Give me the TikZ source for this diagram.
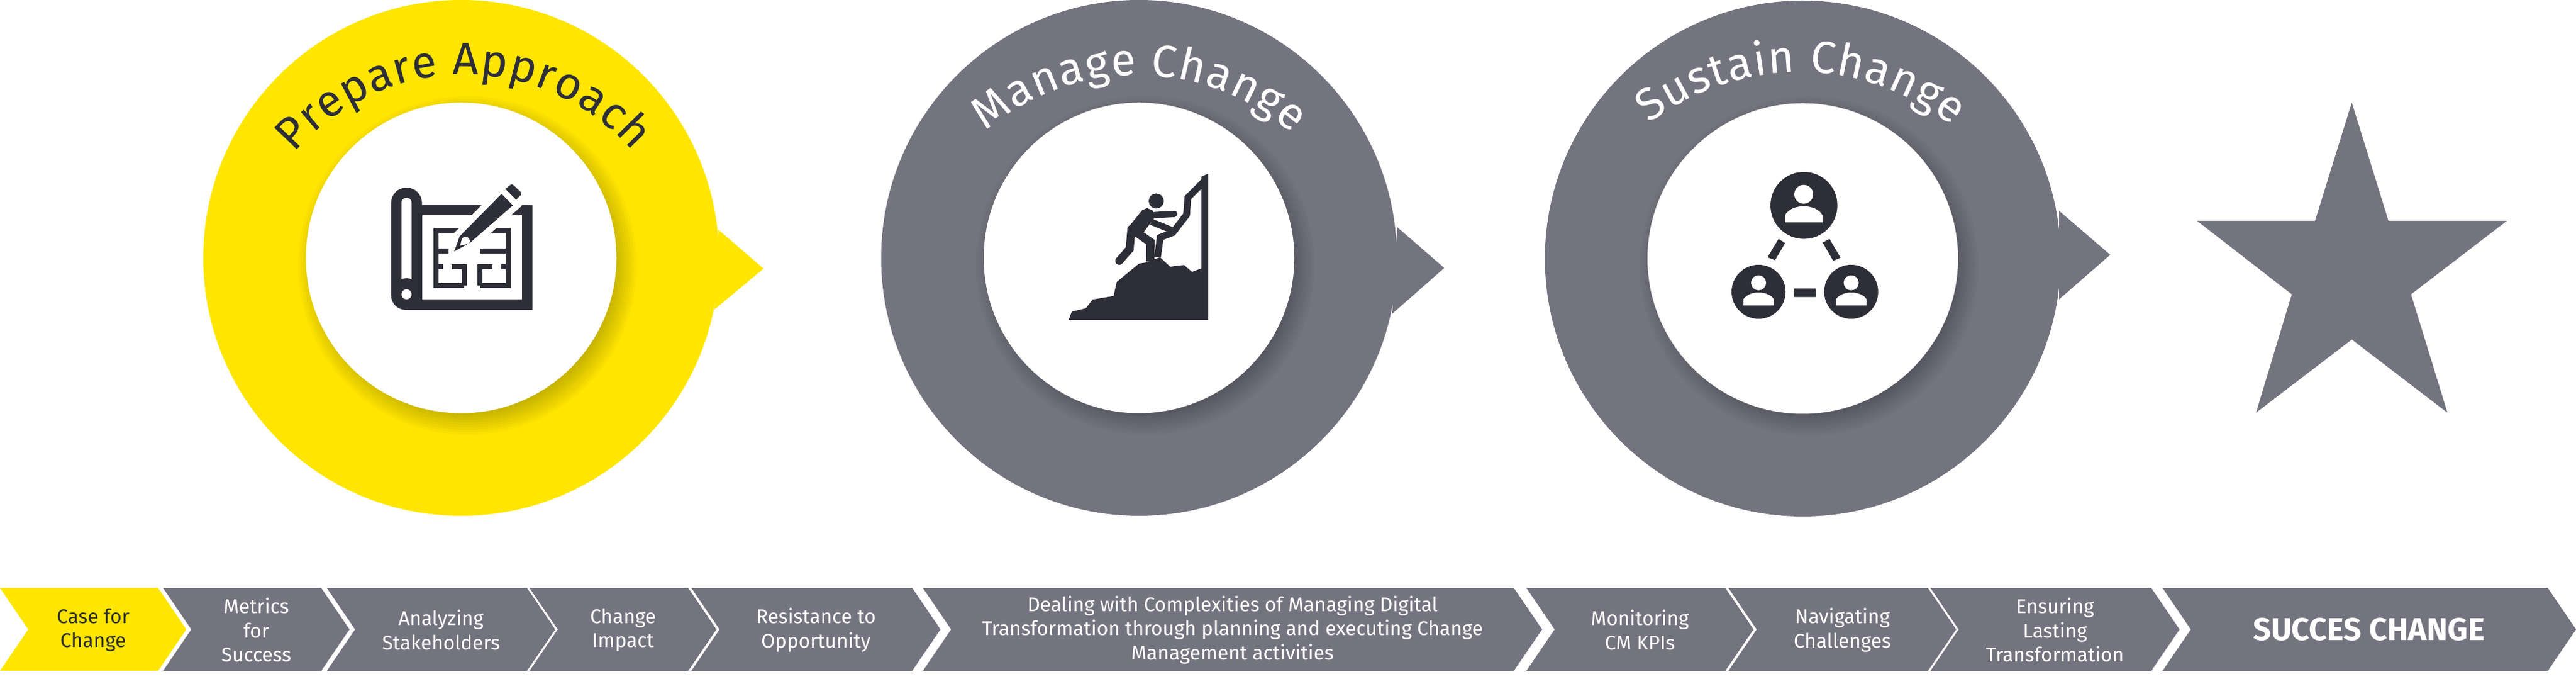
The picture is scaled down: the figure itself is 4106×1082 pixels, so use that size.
\documentclass[tikz,border=0pt]{standalone}
\usepackage{fontspec}
\setmainfont{Fira Sans}
\usetikzlibrary{decorations.text}
\definecolor{eyyellow}{HTML}{FFE600}
\definecolor{eygray}{HTML}{747480}
\definecolor{eyink}{HTML}{2E2E38}
\newcommand{\stagefont}{\fontsize{20.5}{24}\selectfont}
\tikzset{
  chevron text/.style={align=center,font=\fontsize{9}{10.9}\selectfont},
  icon ink/.style={fill=eyink},
  soft shadow/.style={fill=black,opacity=0.025}
}
\newcommand{\stepbar}[6]{
  \fill[#4] (#2,145)--(#3,145)--({#3+45},79)--(#3,13)--(#2,13)--({#2+45},79)--cycle;
  \node[chevron text,text=#5] (#1) at ({(#2+#3+45)/2},78) {#6};
}
\begin{document}
\begin{tikzpicture}[x=0.01cm,y=0.01cm]
\useasboundingbox (0,0) rectangle (4106,1082);

\fill[eyyellow] (735,671) circle (411);
\fill[eyyellow] (1145,716)--(1217,654)--(1139,589)--cycle;
\fill[eygray] (1815.5,671) circle (411);
\fill[eygray] (2227,720)--(2302,655)--(2219,582)--cycle;
\fill[eygray] (2873.5,670) circle (411);
\fill[eygray] (3282,746)--(3363.5,676)--(3282,605)--cycle;

\foreach \cx/\cy in {735/671,1815.5/671,2873.5/670} {
  \foreach \r in {226,230,...,270}
    \fill[soft shadow] (\cx+10,\cy-12) circle (\r);
  \fill[white] (\cx,\cy) circle (247.5);
}

\path[decorate,decoration={text along path,text align={fit to path},
  text={|\stagefont\color{eyink}|Prepare Approach}}] (740,607)+(139.5:356) arc (139.5:41:356);
\path[decorate,decoration={text along path,text align={fit to path},
  text={|\stagefont\color{white}|Manage Change}}] (1813,589)+(130.5:373) arc (130.5:48.5:373);
\path[decorate,decoration={text along path,text align={fit to path},
  text={|\stagefont\color{white}|Sustain Change}}] (2868,579)+(128:388) arc (128:51:388);

\begin{scope}[shift={(580,812)},xscale=1/3,yscale=-1/3]
\fill[icon ink] (130,161) arc (180:360:74)--(278,170)--(806,170)--(806,672)--(204,672)
  .. controls (160,672) and (130,640) .. (130,600)--cycle;
\fill[white] (278,218) rectangle (757,622);
\fill[white] (180,525)--(180,159) arc (180:360:24)--(228,525) .. controls (215,518) and (193,518) .. cycle;
\fill[white] (204,597) circle (24);
\draw[eyink,line width=0.08cm] (480,556)--(344,556)--(344,292)--(690,292)--(690,556)--(555,556);
\draw[eyink,line width=0.08cm] (344,391)--(405,391) (555,391)--(690,391);
\draw[eyink,line width=0.08cm] (344,466)--(378,466) (420,466)--(480,466)--(480,556);
\draw[eyink,line width=0.08cm] (690,466)--(658,466) (615,466)--(555,466)--(555,556);
\fill[icon ink,rounded corners=0.03cm] (672,98)--(708,68)--(757,115)--(725,148)--cycle;
\draw[white,line width=0.2cm,fill=white] (458,320)--(658,117)--(712,172)--(508,350)--cycle;
\fill[icon ink] (432,392)--(458,320)--(658,117)--(712,172)--(508,350)--cycle;
\fill[white] (460,365)--(468,335) arc (200:400:20)--cycle;
\end{scope}

\begin{scope}[shift={(1650,832)},xscale=1/3,yscale=-1/3]
\fill[icon ink] (160,780)--(175,740)--(242,724)--(275,682)--(375,665)--(390,598)--(497,510)--(530,505)--(597,480)
  --(645,525)--(712,517)--(750,550)--(795,533)--(795,95)--(827,80)--(827,780)--cycle;
\draw[eyink,line width=0.107cm] (810,115)--(730,195)--(724,277)--(658,362)--(598,385)--(585,480);
\fill[icon ink] (579,211) circle (36);
\fill[icon ink] (455,325)--(512,255)--(535,245)--(560,255)--(575,285)--(520,358)--(480,383)--(440,345)--cycle;
\draw[eyink,line width=0.1cm,line cap=round] (570,278)--(665,273);
\draw[eyink,line width=0.1cm] (555,310)--(652,350);
\draw[eyink,line width=0.127cm,line cap=round] (460,345)--(452,440)--(402,497);
\draw[eyink,line width=0.133cm] (490,365)--(552,408)--(550,500);
\end{scope}

\begin{scope}[shift={(2700,832)},xscale=1/3,yscale=-1/3]
\fill[icon ink] (526,232) circle (160);
\fill[icon ink] (309,645) circle (129);
\fill[icon ink] (752,645) circle (129);
\fill[white] (525,179) circle (45);
\fill[white] (435,313)--(435,280) .. controls (450,250) and (490,236) .. (525,236) .. controls (560,236) and (600,250) .. (615,280)--(615,313)--cycle;
\fill[white] (309,602) circle (36);
\fill[white] (237,710)--(237,680) .. controls (250,660) and (280,648) .. (309,648) .. controls (338,648) and (370,660) .. (382,680)--(382,710)--cycle;
\fill[white] (752,602) circle (36);
\fill[white] (680,710)--(680,680) .. controls (693,660) and (723,648) .. (752,648) .. controls (781,648) and (813,660) .. (825,680)--(825,710)--cycle;
\fill[icon ink] (405,392)--(436,412)--(388,494)--(352,480)--cycle;
\fill[icon ink] (648,392)--(616,410)--(666,497)--(701,482)--cycle;
\fill[icon ink] (479,629)--(583,629)--(583,670)--(478,670)--cycle;
\end{scope}

\fill[eygray] (3748.6,918.6)--(3807,730)--(3995.7,730)--(3843,613)--(3901,424.4)--(3748.6,541)--(3596,424.4)--(3653,613)--(3502,730)--(3690,730)--cycle;

\stepbar{casechange}{0}{252}{eyyellow}{eyink}{Case for\\Change}
\stepbar{metrics}{260}{512}{eygray}{white}{Metrics\\for\\Success}
\stepbar{stakeholders}{521}{840}{eygray}{white}{Analyzing\\Stakeholders}
\stepbar{impact}{844}{1097}{eygray}{white}{Change\\Impact}
\stepbar{resistance}{1102}{1454}{eygray}{white}{Resistance to\\Opportunity}
\stepbar{complexities}{1471}{2413}{eygray}{white}{Dealing with Complexities of Managing Digital\\Transformation through planning and executing Change\\Management activities}
\stepbar{kpis}{2433}{2750}{eygray}{white}{Monitoring\\CM KPIs}
\stepbar{challenges}{2755}{3073}{eygray}{white}{Navigating\\Challenges}
\stepbar{lasting}{3077}{3429}{eygray}{white}{Ensuring\\Lasting\\Transformation}
\fill[eygray] (3447,145)--(4061,145)--(4106,79)--(4061,13)--(3447,13)--(3492,79)--cycle;
\node[font=\bfseries\fontsize{14.3}{16}\selectfont,text=white] (success) at (3776,79) {SUCCES CHANGE};
\end{tikzpicture}
\end{document}
